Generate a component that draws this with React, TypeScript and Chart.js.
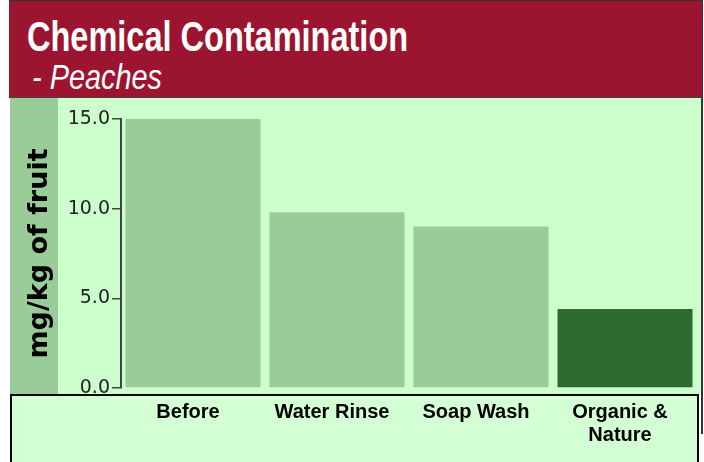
import React, { useEffect, useRef } from "react";
import { Chart, registerables } from "chart.js";

Chart.register(...registerables);

const chartTitle = "Chemical Contamination";
const chartSubtitle = "- Peaches";
const yAxisTitle = "mg/kg of fruit";
const categories: (string | string[])[] = ["Before", "Water Rinse", "Soap Wash", ["Organic &", "Nature"]];
const contamination = [15.0, 9.8, 9.0, 4.4];
const barColors = ["#99CC99", "#99CC99", "#99CC99", "#2D6A2D"];
const yTickValues = [0, 5, 10, 15];

export default function App() {
  const ref = useRef<HTMLCanvasElement | null>(null);

  useEffect(() => {
    document.body.style.margin = "0";
    const canvas = ref.current;
    if (!canvas) return;

    const backgroundPlugin = {
      id: "panelBackground",
      beforeDraw(chart: any) {
        const ctx = chart.ctx;
        const W = chart.width;
        const H = chart.height;
        ctx.save();
        ctx.fillStyle = "#ffffff";
        ctx.fillRect(0, 0, W, H);
        ctx.fillStyle = "#CCFFCC";
        ctx.fillRect(10, 97, 691, 298);
        ctx.fillStyle = "#99CC99";
        ctx.fillRect(10, 97, 48, 298);
        ctx.fillStyle = "#D4FED4";
        ctx.fillRect(10, 395, 689, H - 395);
        ctx.strokeStyle = "#000000";
        ctx.lineWidth = 2;
        ctx.beginPath();
        ctx.moveTo(11, H);
        ctx.lineTo(11, 395);
        ctx.lineTo(698, 395);
        ctx.lineTo(698, H);
        ctx.stroke();
        ctx.strokeStyle = "#333333";
        ctx.lineWidth = 2;
        ctx.beginPath();
        ctx.moveTo(702, 0);
        ctx.lineTo(702, 434);
        ctx.stroke();
        ctx.restore();
      },
    };

    const chart = new Chart(canvas, {
      type: "bar",
      data: {
        labels: categories as any,
        datasets: [
          {
            data: contamination,
            backgroundColor: barColors,
            borderWidth: 0,
            barPercentage: 0.9375,
            categoryPercentage: 1,
          },
        ],
      },
      options: {
        responsive: false,
        animation: false,
        devicePixelRatio: 1,
        layout: { padding: { left: 21, right: 7, top: 119, bottom: 0 } },
        plugins: {
          legend: { display: false },
          tooltip: { enabled: false },
        },
        scales: {
          x: {
            grid: { display: false, drawTicks: false },
            border: { display: false },
            ticks: {
              font: { family: "'Liberation Sans', Arial, sans-serif", weight: "bold", size: 20, lineHeight: 1.15 },
              color: "#000000",
              padding: 13,
              labelOffset: -5,
              maxRotation: 0,
              autoSkip: false,
            },
            afterFit: (s: any) => {
              s.height = 74;
            },
          },
          y: {
            min: 0,
            max: 15,
            afterBuildTicks: (s: any) => {
              s.ticks = yTickValues.map((v) => ({ value: v }));
            },
            ticks: {
              callback: (v: any) => Number(v).toFixed(1),
              font: { family: "'DejaVu Sans', sans-serif", size: 19 },
              color: "#222222",
              padding: 2,
            },
            grid: { drawOnChartArea: false, tickLength: 9, color: "#444444", lineWidth: 1.5 },
            border: { color: "#444444", width: 2 },
            title: {
              display: true,
              text: yAxisTitle,
              font: { family: "'DejaVu Sans', sans-serif", weight: "bold", size: 27 },
              color: "#000000",
              padding: { top: 3, bottom: 0 },
            },
            afterFit: (s: any) => {
              s.width = 100;
            },
          },
        },
      },
      plugins: [backgroundPlugin],
    });

    return () => chart.destroy();
  }, []);

  return (
    <div style={{ position: "relative", width: 704, height: 462, overflow: "hidden" }}>
      <style>{"body{margin:0}"}</style>
      <canvas ref={ref} width={704} height={462} style={{ position: "absolute", left: 0, top: 0, width: 704, height: 462 }} />
      <div
        style={{
          position: "absolute",
          left: 9,
          top: 0,
          width: 693,
          height: 96,
          background: "#9C1530",
          borderTop: "1px solid #333333",
          borderBottom: "1px solid #444444",
        }}
      >
        <div
          style={{
            position: "absolute",
            left: 18,
            top: 15,
            fontFamily: "'Liberation Sans', Arial, sans-serif",
            fontWeight: "bold",
            fontSize: 42,
            lineHeight: "42px",
            color: "#ffffff",
            whiteSpace: "nowrap",
            transform: "scaleX(0.774)",
            transformOrigin: "left top",
          }}
        >
          {chartTitle}
        </div>
        <div
          style={{
            position: "absolute",
            left: 23,
            top: 58,
            fontFamily: "'Liberation Sans', Arial, sans-serif",
            fontStyle: "italic",
            fontSize: 35,
            lineHeight: "35px",
            color: "#ffffff",
            whiteSpace: "nowrap",
            transform: "scaleX(0.825)",
            transformOrigin: "left top",
          }}
        >
          {chartSubtitle}
        </div>
      </div>
    </div>
  );
}
